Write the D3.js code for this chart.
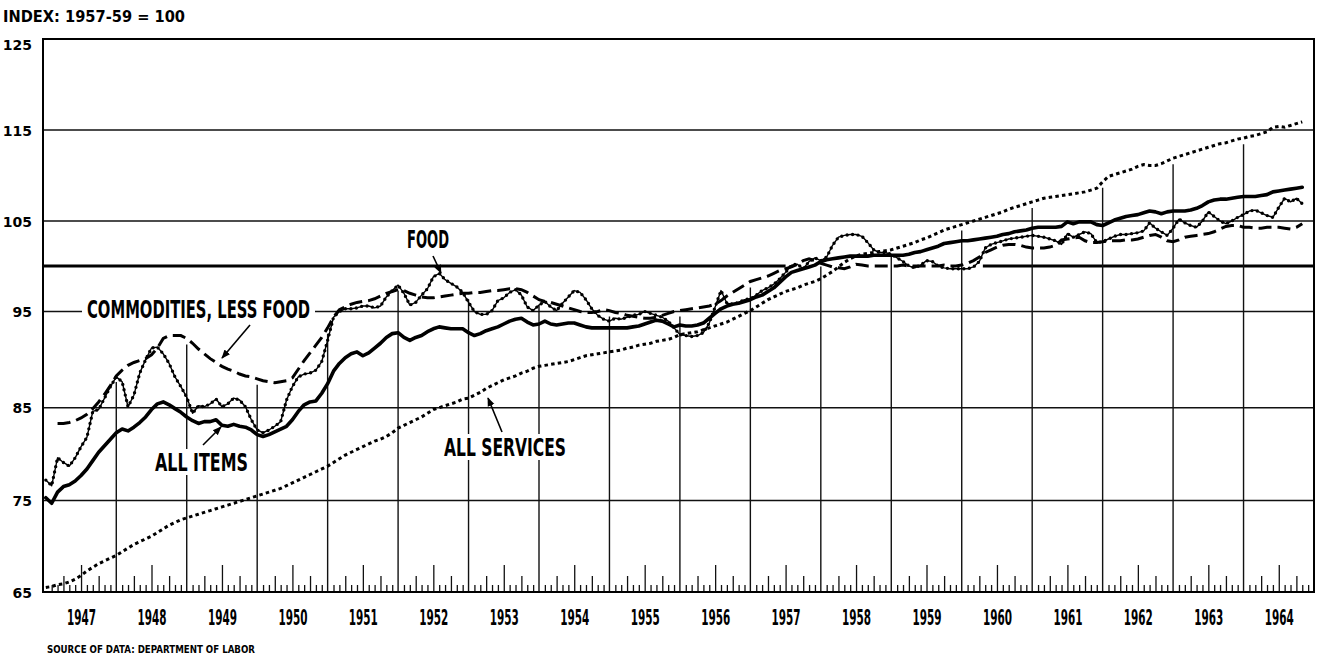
<!DOCTYPE html>
<html>
<head>
<meta charset="utf-8">
<script src="https://cdn.jsdelivr.net/npm/d3@7"></script>
<style>
  body { margin: 0; background: #fff; }
  svg { display: block; }
  .cond { font-family: "Liberation Sans Narrow", "DejaVu Sans Condensed", "Roboto Condensed", sans-serif; font-weight: bold; }
  .geo { font-family: "DejaVu Sans", "Lato", sans-serif; font-weight: bold; }
</style>
</head>
<body>
<svg id="chart" width="1320" height="656"></svg>
<script>
// consumer price indexes, monthly, Jan 1947 - Nov 1964 (1957-59 = 100)
var startYear = 1947;
var yearLabels = ["1947", "1948", "1949", "1950", "1951", "1952", "1953", "1954", "1955",
                  "1956", "1957", "1958", "1959", "1960", "1961", "1962", "1963", "1964"];
var yTicks = [65, 75, 85, 95, 105, 115, 125];
var baseValue = 100;

var allItems = [
  75.3, 74.7, 75.9, 76.5, 76.7, 77.1, 77.7, 78.4, 79.3, 80.2, 80.9, 81.6,   // 1947
  82.3, 82.7, 82.5, 82.9, 83.4, 84.0, 84.8, 85.4, 85.6, 85.3, 84.9, 84.5,   // 1948
  84.0, 83.6, 83.3, 83.5, 83.5, 83.7, 83.1, 83.0, 83.2, 83.0, 82.9, 82.6,   // 1949
  82.1, 81.9, 82.1, 82.4, 82.7, 83.0, 83.7, 84.6, 85.3, 85.6, 85.7, 86.5,   // 1950
  87.5, 88.8, 89.6, 90.2, 90.6, 90.8, 90.4, 90.7, 91.2, 91.7, 92.3, 92.7,   // 1951
  92.8, 92.3, 92.0, 92.3, 92.5, 92.9, 93.2, 93.4, 93.3, 93.2, 93.2, 93.2,   // 1952
  92.8, 92.5, 92.7, 93.0, 93.2, 93.4, 93.7, 94.0, 94.2, 94.3, 93.9, 93.6,   // 1953
  93.7, 94.0, 93.7, 93.6, 93.7, 93.8, 93.8, 93.6, 93.4, 93.3, 93.3, 93.3,   // 1954
  93.3, 93.3, 93.3, 93.3, 93.4, 93.5, 93.7, 93.9, 94.1, 94.0, 93.7, 93.4,   // 1955
  93.6, 93.5, 93.5, 93.6, 93.8, 94.3, 94.8, 95.3, 95.6, 95.8, 95.9, 96.1,   // 1956
  96.3, 96.6, 96.8, 97.2, 97.6, 98.2, 98.8, 99.3, 99.5, 99.7, 99.9, 100.1,  // 1957
  100.5, 100.7, 100.8, 100.9, 101.0, 101.1, 101.1, 101.1, 101.1, 101.2, 101.2, 101.2, // 1958
  101.2, 101.2, 101.2, 101.3, 101.5, 101.6, 101.8, 102.0, 102.2, 102.5, 102.6, 102.7, // 1959
  102.8, 102.8, 102.9, 103.0, 103.1, 103.2, 103.3, 103.5, 103.6, 103.8, 103.9, 104.0, // 1960
  104.2, 104.3, 104.3, 104.3, 104.3, 104.4, 104.9, 104.7, 104.9, 104.9, 104.9, 104.6, // 1961
  104.5, 104.8, 105.1, 105.3, 105.5, 105.6, 105.7, 105.9, 106.1, 106.0, 105.8, 106.0, // 1962
  106.1, 106.1, 106.1, 106.2, 106.4, 106.7, 107.1, 107.3, 107.4, 107.4, 107.5, 107.6, // 1963
  107.7, 107.7, 107.7, 107.8, 107.9, 108.2, 108.3, 108.4, 108.5, 108.6, 108.7         // 1964
];

var food = [
  77.2, 76.6, 79.6, 79.1, 78.7, 79.6, 80.8, 81.8, 84.6, 84.8, 86.0, 87.2,   // 1947
  88.2, 87.7, 85.1, 86.3, 88.6, 90.0, 91.2, 91.3, 90.6, 89.6, 88.2, 87.2,   // 1948
  86.1, 84.4, 85.2, 85.1, 85.4, 85.9, 85.1, 85.4, 86.0, 85.8, 85.1, 83.7,   // 1949
  82.6, 82.3, 82.6, 83.0, 83.5, 85.8, 87.2, 88.2, 88.5, 88.6, 88.9, 89.8,   // 1950
  92.0, 94.4, 95.0, 95.3, 95.3, 95.4, 95.6, 95.6, 95.4, 95.6, 96.6, 97.3,   // 1951
  97.9, 97.0, 95.7, 96.0, 96.8, 97.5, 98.8, 99.2, 98.5, 98.1, 97.7, 97.1,   // 1952
  96.0, 95.0, 94.7, 94.7, 95.1, 96.2, 96.5, 97.1, 97.4, 96.8, 95.5, 95.1,   // 1953
  95.7, 96.1, 95.5, 95.1, 95.9, 96.6, 97.3, 97.1, 96.3, 95.3, 94.6, 94.2,   // 1954
  94.0, 94.3, 94.2, 94.4, 94.6, 94.7, 95.0, 94.8, 94.6, 94.4, 94.0, 93.3,   // 1955
  92.6, 92.5, 92.4, 92.5, 92.8, 93.8, 95.5, 97.3, 95.9, 95.8, 96.0, 96.3,   // 1956
  96.4, 96.8, 97.3, 97.6, 98.0, 98.6, 99.3, 100.1, 100.2, 99.7, 100.5, 100.9, // 1957
  100.6, 101.0, 102.3, 103.2, 103.4, 103.5, 103.5, 103.3, 102.6, 101.8, 101.5, 101.5, // 1958
  101.3, 100.9, 100.5, 100.0, 99.8, 100.1, 100.6, 100.5, 100.0, 99.8, 99.7, 99.7,     // 1959
  99.7, 99.7, 99.9, 100.5, 102.0, 102.4, 102.6, 102.8, 103.0, 103.1, 103.2, 103.3,    // 1960
  103.4, 103.3, 103.2, 103.0, 102.8, 102.4, 103.6, 103.2, 103.5, 103.8, 103.6, 102.6, // 1961
  102.7, 103.0, 103.3, 103.5, 103.5, 103.6, 103.7, 103.9, 104.8, 104.2, 103.8, 103.4, // 1962
  104.2, 105.2, 104.8, 104.5, 104.3, 105.0, 106.0, 105.5, 105.0, 104.7, 105.0, 105.4, // 1963
  105.7, 106.1, 106.2, 105.9, 105.6, 105.4, 106.5, 107.5, 107.1, 107.5, 106.9         // 1964
];

var commodities = [
  null, null, 83.3, 83.3, 83.4, 83.6, 83.9, 84.3, 84.9, 85.6, 86.4, 87.3,   // 1947
  88.3, 88.9, 89.4, 89.7, 89.9, 90.1, 90.5, 91.2, 92.2, 92.5, 92.5, 92.5,   // 1948
  92.2, 91.7, 91.1, 90.6, 90.1, 89.7, 89.3, 89.0, 88.8, 88.5, 88.3, 88.2,   // 1949
  88.0, 87.8, 87.7, 87.6, 87.7, 87.8, 88.1, 89.0, 89.9, 90.7, 91.5, 92.3,   // 1950
  93.3, 94.4, 95.2, 95.5, 95.8, 96.0, 96.1, 96.2, 96.4, 96.7, 97.0, 97.2,   // 1951
  97.4, 97.3, 97.0, 96.8, 96.6, 96.5, 96.5, 96.6, 96.7, 96.8, 96.9, 97.0,   // 1952
  97.0, 97.1, 97.1, 97.2, 97.3, 97.3, 97.4, 97.5, 97.5, 97.4, 97.1, 96.7,   // 1953
  96.3, 96.1, 96.0, 95.8, 95.6, 95.4, 95.2, 95.0, 94.9, 94.9, 95.0, 95.2,   // 1954
  95.1, 94.9, 94.8, 94.6, 94.5, 94.4, 94.3, 94.3, 94.4, 94.6, 94.8, 95.0,   // 1955
  95.1, 95.2, 95.3, 95.4, 95.5, 95.6, 95.8, 96.2, 96.7, 97.1, 97.5, 97.9,   // 1956
  98.3, 98.5, 98.7, 98.9, 99.2, 99.5, 99.7, 99.9, 100.2, 100.6, 100.8, 100.6, // 1957
  100.3, 100.1, 99.9, 99.8, 99.7, 99.9, 100.2, 100.1, 100.0, 100.0, 100.0, 100.0, // 1958
  100.0, 100.0, 100.1, 100.0, 100.0, 100.0, 100.0, 100.0, 100.0, 100.1, 100.0, 100.0, // 1959
  100.1, 100.3, 100.6, 101.0, 101.5, 101.8, 102.1, 102.3, 102.4, 102.4, 102.3, 102.1, // 1960
  102.0, 102.0, 102.0, 102.1, 102.3, 102.9, 103.0, 103.1, 103.2, 102.8, 102.6, 102.6, // 1961
  102.7, 102.8, 102.8, 102.8, 102.9, 102.9, 103.0, 103.2, 103.4, 103.5, 103.2, 102.8, // 1962
  102.7, 102.9, 103.2, 103.3, 103.4, 103.5, 103.6, 103.8, 104.1, 104.4, 104.5, 104.5, // 1963
  104.3, 104.3, 104.2, 104.2, 104.3, 104.3, 104.3, 104.2, 104.1, 104.3, 104.7         // 1964
];

var services = [
  65.5, 65.6, 65.8, 65.9, 66.1, 66.4, 66.8, 67.3, 67.7, 68.1, 68.4, 68.7,   // 1947
  69.0, 69.4, 69.8, 70.2, 70.5, 70.8, 71.1, 71.5, 71.9, 72.3, 72.6, 72.9,   // 1948
  73.1, 73.3, 73.5, 73.7, 73.9, 74.1, 74.3, 74.5, 74.7, 74.9, 75.1, 75.3,   // 1949
  75.5, 75.7, 75.9, 76.1, 76.3, 76.6, 76.9, 77.2, 77.5, 77.8, 78.1, 78.4,   // 1950
  78.7, 79.1, 79.5, 79.9, 80.2, 80.5, 80.8, 81.1, 81.4, 81.6, 81.9, 82.3,   // 1951
  82.8, 83.1, 83.4, 83.7, 84.0, 84.4, 84.8, 85.0, 85.2, 85.4, 85.6, 85.9,   // 1952
  86.0, 86.3, 86.6, 87.0, 87.3, 87.6, 87.9, 88.1, 88.3, 88.6, 88.8, 89.1,   // 1953
  89.3, 89.4, 89.5, 89.6, 89.7, 89.8, 90.0, 90.2, 90.4, 90.5, 90.6, 90.7,   // 1954
  90.8, 90.9, 91.0, 91.2, 91.3, 91.5, 91.6, 91.7, 91.9, 92.0, 92.1, 92.3,   // 1955
  92.6, 92.7, 92.8, 92.9, 93.1, 93.3, 93.5, 93.7, 93.9, 94.2, 94.5, 94.8,   // 1956
  95.1, 95.5, 95.9, 96.3, 96.6, 96.9, 97.2, 97.4, 97.6, 97.9, 98.1, 98.3,   // 1957
  98.6, 99.0, 99.4, 99.9, 100.4, 100.8, 101.1, 101.3, 101.4, 101.5, 101.6, 101.7, // 1958
  101.8, 102.0, 102.2, 102.4, 102.6, 102.9, 103.1, 103.4, 103.7, 104.0, 104.2, 104.4, // 1959
  104.6, 104.8, 105.0, 105.2, 105.4, 105.6, 105.8, 106.0, 106.3, 106.5, 106.7, 106.9, // 1960
  107.1, 107.3, 107.5, 107.6, 107.7, 107.8, 107.9, 108.0, 108.1, 108.2, 108.4, 108.6, // 1961
  109.3, 109.9, 110.1, 110.3, 110.5, 110.7, 111.0, 111.2, 111.1, 111.1, 111.3, 111.6, // 1962
  111.9, 112.1, 112.3, 112.5, 112.7, 112.9, 113.1, 113.3, 113.5, 113.6, 113.8, 114.0, // 1963
  114.1, 114.3, 114.4, 114.6, 114.8, 115.3, 115.4, 115.3, 115.5, 115.7, 115.9         // 1964
];

// where the 100 line was left out (the commodities curve runs on it there)
var baseGap = [1957.5, 1960.3];

var svg = d3.select("#chart");

var x = d3.scaleLinear().domain([1946.96, 1965.0]).range([43, 1314]);
// the printed grid is not quite even, so the scale follows each ruled line
var y = d3.scaleLinear()
    .domain([65, 75, 85, 95, 100, 105, 115, 125])
    .range([592, 500.5, 407.7, 311.5, 266, 221, 130, 39]);
var yBottom = y(65), yTop = y(125);

function toPoints(arr) {
  return arr.map(function(v, i) { return {t: startYear + i / 12, v: v}; });
}

var line = d3.line()
    .defined(function(d) { return d.v != null; })
    .x(function(d) { return x(d.t); })
    .y(function(d) { return y(d.v); });

// horizontal grid
svg.append("g").selectAll("line")
    .data(yTicks.filter(function(d) { return d > 65 && d < 125; }))
  .enter().append("line")
    .attr("x1", x.range()[0]).attr("x2", x.range()[1])
    .attr("y1", function(d) { return y(d); }).attr("y2", function(d) { return y(d); })
    .attr("stroke", "#111").attr("stroke-width", 1.4);

// heavy 100 line, in two pieces
var baseSegs = [[x.domain()[0], baseGap[0]], [baseGap[1], x.domain()[1]]];
svg.append("g").selectAll("line")
    .data(baseSegs)
  .enter().append("line")
    .attr("x1", function(d) { return x(d[0]); }).attr("x2", function(d) { return x(d[1]); })
    .attr("y1", y(baseValue)).attr("y2", y(baseValue))
    .attr("stroke", "#000").attr("stroke-width", 3.2);

// vertical year lines, drawn up to just under the curves
var allSeries = [allItems, food, commodities, services];
var yearStarts = yearLabels.slice(1).map(function(d) { return +d; });
svg.append("g").selectAll("line")
    .data(yearStarts)
  .enter().append("line")
    .attr("x1", function(d) { return x(d); }).attr("x2", function(d) { return x(d); })
    .attr("y1", yBottom)
    .attr("y2", function(d) {
      var i = (d - startYear) * 12;
      var top = d3.max(allSeries, function(s) { return s[i]; });
      return y(top) + 6;
    })
    .attr("stroke", "#111").attr("stroke-width", 1.4);

// monthly ticks along the bottom
var monthTicks = [], quarterTicks = [], halfTicks = [];
for (var yr = startYear; yr < startYear + yearLabels.length; yr++) {
  for (var m = 1; m < 12; m++) {
    var t = yr + m / 12;
    if (m === 6) halfTicks.push(t);
    else if (m === 3 || m === 9) quarterTicks.push(t);
    else monthTicks.push(t);
  }
}
[[monthTicks, 7], [quarterTicks, 16], [halfTicks, 27]].forEach(function(p) {
  var g = svg.append("g")
      .attr("transform", "translate(0," + yBottom + ")")
      .call(d3.axisBottom(x).tickValues(p[0]).tickSizeInner(-p[1]).tickSizeOuter(0).tickFormat(""));
  g.select(".domain").remove();
  g.selectAll("line").attr("stroke", "#111").attr("stroke-width", 1.3);
});

// frame
svg.append("rect")
    .attr("x", x.range()[0]).attr("y", yTop)
    .attr("width", x.range()[1] - x.range()[0]).attr("height", yBottom - yTop)
    .attr("fill", "none").attr("stroke", "#000").attr("stroke-width", 2);

// year labels
var gx = svg.append("g")
    .attr("transform", "translate(0," + yBottom + ")")
    .call(d3.axisBottom(x)
      .tickValues(yearLabels.map(function(d) { return +d + 0.5; }))
      .tickSize(0)
      .tickFormat(function(d) { return String(Math.floor(d)); }));
gx.select(".domain").remove();
gx.selectAll("text")
    .attr("class", "cond")
    .attr("y", 33).attr("dy", 0)
    .attr("font-size", 21)
    .attr("fill", "#000")
    .attr("textLength", 29).attr("lengthAdjust", "spacingAndGlyphs");

// y labels
var gy = svg.append("g")
    .attr("transform", "translate(32,0)")
    .call(d3.axisLeft(y).tickValues(yTicks).tickSize(0).tickPadding(0));
gy.select(".domain").remove();
gy.selectAll("text")
    .attr("class", "geo")
    .attr("font-size", 14)
    .attr("fill", "#000")
    .attr("dy", function(d) { return d === 125 ? "0.75em" : "0.36em"; });

// label backgrounds (they hide the grid behind the words)
var labels = [
  {text: "COMMODITIES, LESS FOOD", x: 87, y: 318, w: 223},
  {text: "FOOD", x: 407, y: 248, w: 42},
  {text: "ALL ITEMS", x: 155, y: 471, w: 93},
  {text: "ALL SERVICES", x: 444, y: 456, w: 122}
];
svg.append("g").selectAll("rect")
    .data(labels)
  .enter().append("rect")
    .attr("x", function(d) { return d.x - 5; })
    .attr("y", function(d) { return d.y - 22; })
    .attr("width", function(d) { return d.w + 10; })
    .attr("height", 26)
    .attr("fill", "#fff");

// curves
svg.append("path").datum(toPoints(services))
    .attr("d", line).attr("fill", "none")
    .attr("stroke", "#000").attr("stroke-width", 3)
    .attr("stroke-dasharray", "3.5,3.2");

svg.append("path").datum(toPoints(commodities))
    .attr("d", line).attr("fill", "none")
    .attr("stroke", "#000").attr("stroke-width", 3)
    .attr("stroke-dasharray", "13,6");

svg.append("path").datum(toPoints(food))
    .attr("d", line).attr("fill", "none")
    .attr("stroke", "#000").attr("stroke-width", 1.4)
    .attr("stroke-linejoin", "round");
svg.append("path").datum(toPoints(food))
    .attr("d", line).attr("fill", "none")
    .attr("stroke", "#000").attr("stroke-width", 3.4)
    .attr("stroke-linecap", "round")
    .attr("stroke-dasharray", "0,5.5");

svg.append("path").datum(toPoints(allItems))
    .attr("d", line).attr("fill", "none")
    .attr("stroke", "#000").attr("stroke-width", 3.6)
    .attr("stroke-linejoin", "round").attr("stroke-linecap", "round");

// label text
svg.append("g").selectAll("text")
    .data(labels)
  .enter().append("text")
    .attr("class", "cond")
    .attr("x", function(d) { return d.x; })
    .attr("y", function(d) { return d.y; })
    .attr("font-size", 25)
    .attr("textLength", function(d) { return d.w; })
    .attr("lengthAdjust", "spacingAndGlyphs")
    .attr("fill", "#000")
    .text(function(d) { return d.text; });

// arrows from the labels to their curves
svg.append("defs").append("marker")
    .attr("id", "head")
    .attr("viewBox", "0 0 10 10")
    .attr("refX", 9).attr("refY", 5)
    .attr("markerWidth", 9).attr("markerHeight", 9)
    .attr("markerUnits", "userSpaceOnUse")
    .attr("orient", "auto")
  .append("path")
    .attr("d", "M0,1 L10,5 L0,9 z")
    .attr("fill", "#000");

var arrows = [
  [250, 325, 222, 358],
  [433, 256, 441, 273],
  [203, 445, 221, 427],
  [502, 432, 488, 398]
];
svg.append("g").selectAll("line")
    .data(arrows)
  .enter().append("line")
    .attr("x1", function(d) { return d[0]; }).attr("y1", function(d) { return d[1]; })
    .attr("x2", function(d) { return d[2]; }).attr("y2", function(d) { return d[3]; })
    .attr("stroke", "#000").attr("stroke-width", 1.6)
    .attr("marker-end", "url(#head)");

// titles
svg.append("text")
    .attr("class", "geo")
    .attr("x", 3).attr("y", 22)
    .attr("font-size", 16)
    .attr("textLength", 182).attr("lengthAdjust", "spacingAndGlyphs")
    .text("INDEX: 1957-59 = 100");

svg.append("text")
    .attr("class", "geo")
    .attr("x", 47).attr("y", 653)
    .attr("font-size", 10.5)
    .attr("textLength", 208).attr("lengthAdjust", "spacingAndGlyphs")
    .text("SOURCE OF DATA: DEPARTMENT OF LABOR");
</script>
</body>
</html>
